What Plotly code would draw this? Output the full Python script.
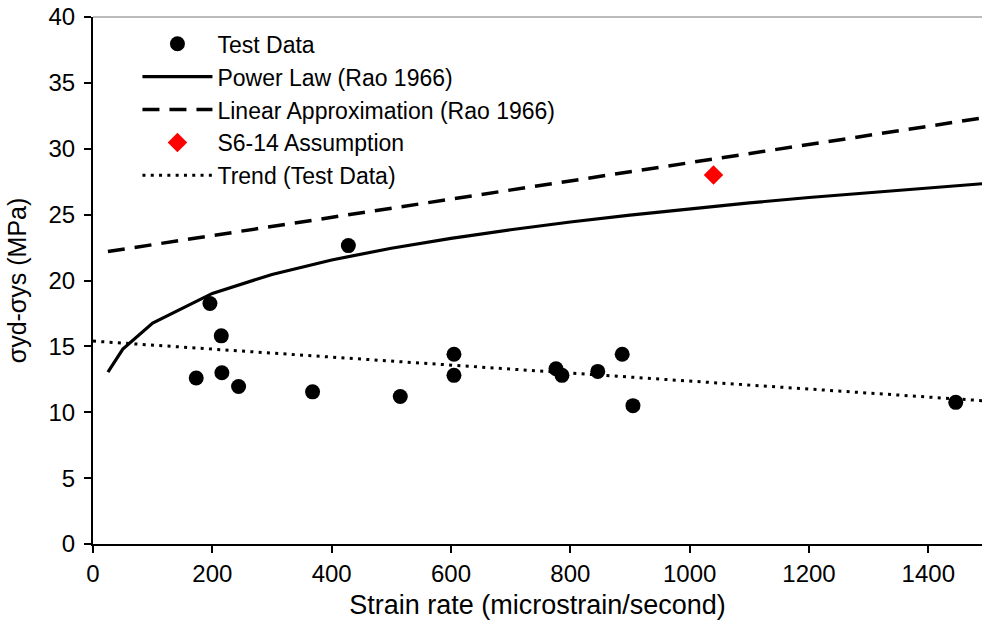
import plotly.graph_objects as go

# Test data
test_x = [173, 196, 215, 216, 244, 368, 428, 515, 605, 605, 776, 786, 846, 887, 905, 1446]
test_y = [12.6, 18.25, 15.8, 13.0, 11.95, 11.55, 22.65, 11.2, 14.4, 12.8, 13.3, 12.8, 13.1, 14.4, 10.5, 10.75]

# Power law (Rao 1966)
power_x = [25, 50, 100, 200, 300, 400, 500, 600, 700, 800, 900, 1000, 1100, 1200, 1300, 1400, 1500]
power_y = [13.05, 14.8, 16.77, 19.02, 20.46, 21.56, 22.45, 23.2, 23.85, 24.44, 24.96, 25.45, 25.89, 26.3, 26.68, 27.04, 27.38]

# Linear approximation (Rao 1966)
linear_x = [25, 1500]
linear_y = [22.2, 32.4]

# S6-14 assumption
s6_x = [1040]
s6_y = [28.0]

# Trend (test data)
trend_x = [0, 1500]
trend_y = [15.4, 10.85]

x_ticks = [0, 200, 400, 600, 800, 1000, 1200, 1400]
y_ticks = [0, 5, 10, 15, 20, 25, 30, 35, 40]

FONT = "Arial, Liberation Sans, sans-serif"

fig = go.Figure()
fig.add_trace(go.Scatter(x=test_x, y=test_y, mode="markers", name="Test Data",
                         marker=dict(color="black", size=15, symbol="circle")))
fig.add_trace(go.Scatter(x=power_x, y=power_y, mode="lines", name="Power Law (Rao 1966)",
                         line=dict(color="black", width=3.2)))
fig.add_trace(go.Scatter(x=linear_x, y=linear_y, mode="lines", name="Linear Approximation (Rao 1966)",
                         line=dict(color="black", width=3.5, dash="17px,10px")))
fig.add_trace(go.Scatter(x=s6_x, y=s6_y, mode="markers", name="S6-14 Assumption",
                         marker=dict(color="#ff0000", size=15, symbol="diamond")))
fig.add_trace(go.Scatter(x=trend_x, y=trend_y, mode="lines", name="Trend (Test Data)",
                         line=dict(color="black", width=3, dash="3px,5.3px")))

fig.update_layout(
    width=982, height=627,
    margin=dict(l=93, r=0, t=17, b=83),
    paper_bgcolor="white", plot_bgcolor="white",
    font=dict(family=FONT, size=24, color="black"),
    showlegend=True,
    legend=dict(x=0.05, y=0.99, xanchor="left", yanchor="top",
                bgcolor="rgba(0,0,0,0)", font=dict(size=23, family=FONT),
                itemwidth=70, tracegroupgap=0),
    shapes=[dict(type="line", xref="paper", yref="paper", x0=0, x1=1, y0=1, y1=1,
                 line=dict(color="#777777", width=1))],
)
fig.update_xaxes(range=[0, 1490], tickvals=x_ticks, ticks="outside", ticklen=7, tickwidth=2,
                 tickcolor="black", showline=True, linecolor="black", linewidth=2,
                 showgrid=False, zeroline=False,
                 title=dict(text="Strain rate (microstrain/second)", font=dict(size=27), standoff=9),
                 tickfont=dict(size=24))
fig.update_yaxes(range=[0, 40], tickvals=y_ticks, ticks="outside", ticklen=7, tickwidth=2,
                 tickcolor="black", showline=True, linecolor="black", linewidth=2,
                 showgrid=False, zeroline=False, ticklabelstandoff=4,
                 title=dict(text="σyd-σys (MPa)", font=dict(size=25), standoff=15),
                 tickfont=dict(size=24))

fig.write_html("out.html")
